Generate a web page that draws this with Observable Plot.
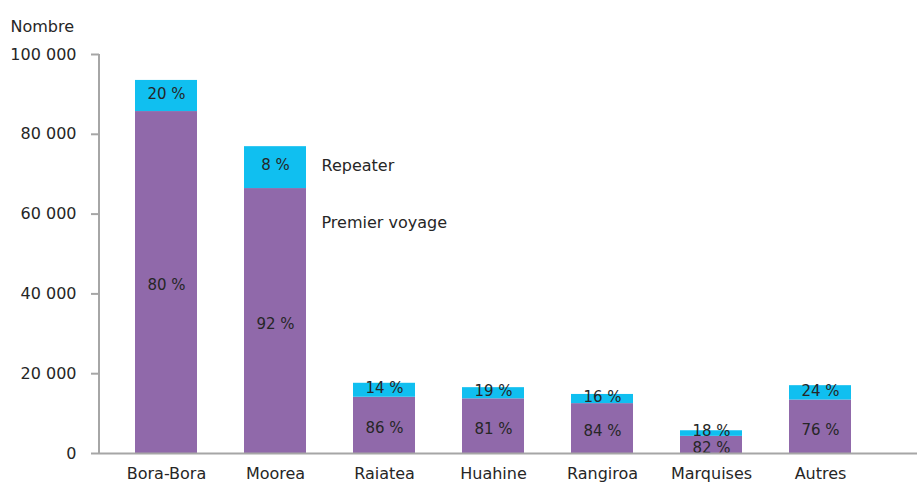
<!DOCTYPE html>
<html>
<head>
<meta charset="utf-8">
<script src="https://cdn.jsdelivr.net/npm/d3@7"></script>
<script src="https://cdn.jsdelivr.net/npm/@observablehq/plot@0.6"></script>
<style>
  html, body { margin: 0; padding: 0; background: #fff; }
</style>
</head>
<body>
<div id="chart"></div>
<script>
const categories = ["Bora-Bora", "Moorea", "Raiatea", "Huahine", "Rangiroa", "Marquises", "Autres"];
const seriesNames = ["Premier voyage", "Repeater"];
const premierValues = [85700, 66400, 14100, 13700, 12500, 4300, 13400];
const repeaterValues = [7800, 10500, 3500, 2800, 2300, 1400, 3600];
const premierLabels = ["80 %", "92 %", "86 %", "81 %", "84 %", "82 %", "76 %"];
const repeaterLabels = ["20 %", "8 %", "14 %", "19 %", "16 %", "18 %", "24 %"];
const yTicks = [0, 20000, 40000, 60000, 80000, 100000];
const colors = ["#9069aa", "#10bff0"];

const rows = [
  ...categories.map((c, i) => ({cat: c, series: seriesNames[0], value: premierValues[i], label: premierLabels[i]})),
  ...categories.map((c, i) => ({cat: c, series: seriesNames[1], value: repeaterValues[i], label: repeaterLabels[i]}))
];
const legendCat = categories[1];
const repeaterLegend = [{cat: legendCat, value: premierValues[1] + repeaterValues[1] / 2, text: seriesNames[1]}];
const premierLegend = [{cat: legendCat, value: premierValues[1], text: seriesNames[0]}];

const fmt = d => d3.format(",")(d).replace(/,/g, " ");
const stackText = {x: "cat", y: "value", z: "series", text: "label", fill: "#262626", fontSize: 15};

const chart = Plot.plot({
  width: 917,
  height: 484,
  marginLeft: 99,
  marginRight: 0,
  marginTop: 54,
  marginBottom: 31,
  style: {fontFamily: "DejaVu Sans, sans-serif", fontSize: "16px", color: "#262626", background: "#fff"},
  x: {domain: categories, range: [84.5, 901.5], padding: 0.43, label: null},
  y: {domain: [0, 100000], label: null},
  color: {domain: seriesNames, range: colors},
  marks: [
    Plot.barY(rows, {x: "cat", y: "value", fill: "series"}),
    Plot.text(rows, Plot.filter(d => d.series === seriesNames[0], Plot.stackY({...stackText, dy: 3}))),
    Plot.text(rows, Plot.filter(d => d.series === seriesNames[1], Plot.stackY({...stackText, dy: -2}))),
    Plot.ruleY([0], {stroke: "#a6a6a6", strokeWidth: 2}),
    (index, scales, values, dims) => {
      const g = d3.create("svg:g");
      g.append("line")
        .attr("x1", dims.marginLeft).attr("x2", dims.marginLeft)
        .attr("y1", dims.marginTop).attr("y2", dims.height - dims.marginBottom)
        .attr("stroke", "#a6a6a6").attr("stroke-width", 2);
      return g.node();
    },
    Plot.axisY({ticks: yTicks, tickFormat: fmt, tickSize: 8, tickPadding: 15, stroke: "#a6a6a6", strokeWidth: 2, fill: "#262626", fontSize: 16}),
    Plot.axisX({tickSize: 0, tickPadding: 14, fill: "#262626", fontSize: 16}),
    Plot.text(repeaterLegend, {x: "cat", y: "value", text: "text", textAnchor: "start", dx: 46, dy: -2, fill: "#262626", fontSize: 16}),
    Plot.text(premierLegend, {x: "cat", y: "value", text: "text", textAnchor: "start", dx: 46, dy: 34, fill: "#262626", fontSize: 16}),
    Plot.text(["Nombre"], {frameAnchor: "top-left", text: d => d, textAnchor: "start", dx: -89, dy: -34, fill: "#262626", fontSize: 16})
  ]
});
document.getElementById("chart").appendChild(chart);
</script>
</body>
</html>
